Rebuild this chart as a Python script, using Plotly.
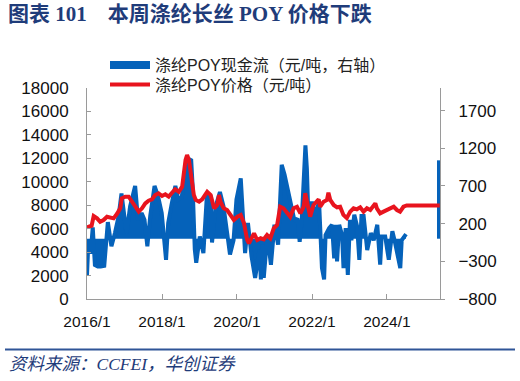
import plotly.graph_objects as go

# ---- data ----
cash_dates = [
    "2016-01-01","2016-01-15","2016-02-05","2016-02-26","2016-03-18","2016-04-15","2016-05-13",
    "2016-06-17","2016-07-22","2016-08-26","2016-09-30","2016-11-04","2016-12-02","2016-12-30",
    "2017-01-20","2017-02-24","2017-04-14","2017-05-12","2017-06-16","2017-07-14","2017-08-11",
    "2017-09-08","2017-10-20","2017-11-24","2017-12-29","2018-02-09","2018-03-02","2018-04-06",
    "2018-05-11","2018-06-08","2018-07-13","2018-08-17","2018-09-14","2018-10-12","2018-10-26",
    "2018-11-16","2018-11-30","2019-01-04","2019-02-08","2019-03-15","2019-04-19","2019-05-03",
    "2019-06-07","2019-07-19","2019-08-23","2019-09-27","2019-10-25","2019-11-29","2019-12-27",
    "2020-02-07","2020-02-28","2020-03-20","2020-04-17","2020-05-22","2020-06-26","2020-08-07",
    "2020-08-21","2020-09-04","2020-09-18","2020-10-23","2020-11-27","2020-12-31","2021-02-05",
    "2021-02-26","2021-03-12","2021-04-09","2021-05-07","2021-06-11","2021-07-16","2021-08-13",
    "2021-09-03","2021-09-24","2021-10-29","2021-11-12","2021-11-26","2021-12-31","2022-02-04",
    "2022-03-11","2022-03-25","2022-04-08","2022-04-29","2022-05-13","2022-06-17","2022-07-15",
    "2022-08-05","2022-08-19","2022-09-02","2022-09-23","2022-10-21","2022-11-04","2022-11-25",
    "2022-12-16","2023-01-06","2023-01-20","2023-02-17","2023-03-17","2023-04-07","2023-04-28",
    "2023-05-19","2023-06-23","2023-07-28","2023-08-25","2023-09-29","2023-10-27","2023-11-10",
    "2023-12-15","2024-01-19","2024-02-23","2024-03-15","2024-04-12","2024-05-10","2024-05-24",
    "2024-06-14","2024-07-05",
]
cash_values = [
    -480, -20, -200, 150, -350, -370, -370,
    -360, 220, -100, 80, 300, 600, 340,
    70, 430, 700, 250, 340, 250, -100,
    300, 700, 560, 340, -280, 210, 470,
    700, 520, 560, 950, 1060, 1040, 700,
    -140, -320, 30, -190, 600, 560, -50,
    430, 620, 430, 80, -210, -20, 520,
    800, 210, -190, 210, -235, -520, -150,
    -540, -80, -520, 50, -345, 185, -80,
    490, 980, 850, 670, 490, 230, 270,
    -40, 270, 1240, 930, 320, 490, 320,
    490, -80, -390, -540, 50, 140, 185,
    -260, 185, -300, 185, 50, -390, 140,
    -480, 250, -20, 320, 160, -280, 300,
    300, -150, 75, -20, 185, -345, 30,
    30, -280, 100, -20, -235, -390, -20,
    30, 60,
]
# latest week (separate segment after the data gap)
cash_last_dates = ["2025-05-22", "2025-05-22"]
cash_last_values = [1040, 0]

price_dates = [
    "2016-01-01","2016-02-15","2016-03-06","2016-04-08","2016-05-08","2016-06-10","2016-07-14",
    "2016-08-15","2016-09-16","2016-10-18","2016-11-20","2016-12-05","2017-01-08","2017-02-10",
    "2017-03-14","2017-04-16","2017-05-19","2017-06-20","2017-07-22","2017-08-23","2017-09-25",
    "2017-10-26","2017-11-28","2018-01-01","2018-02-02","2018-03-07","2018-04-08","2018-05-08",
    "2018-06-13","2018-07-16","2018-08-18","2018-09-02","2018-09-20","2018-10-05","2018-10-23",
    "2018-11-07","2018-11-25","2018-12-28","2019-01-27","2019-02-28","2019-03-17","2019-04-20",
    "2019-05-05","2019-05-23","2019-06-22","2019-07-10","2019-07-24","2019-08-25","2019-09-27",
    "2019-10-30","2019-12-02","2020-01-05","2020-02-07","2020-03-10","2020-04-10","2020-04-27",
    "2020-05-30","2020-06-15","2020-07-17","2020-08-19","2020-09-18","2020-10-20","2020-11-21",
    "2020-12-24","2021-01-26","2021-02-25","2021-03-29","2021-05-01","2021-06-03","2021-07-06",
    "2021-08-08","2021-09-10","2021-10-12","2021-10-27","2021-11-18","2021-12-14","2022-01-16",
    "2022-02-18","2022-03-07","2022-03-22","2022-04-24","2022-05-27","2022-06-10","2022-06-28",
    "2022-07-31","2022-09-02","2022-10-02","2022-11-03","2022-12-06","2023-01-08","2023-02-10",
    "2023-03-14","2023-04-16","2023-05-18","2023-06-20","2023-07-23","2023-09-10","2023-09-25",
    "2023-10-27","2023-11-29","2024-01-01","2024-02-02","2024-03-07","2024-04-08","2024-05-08",
    "2024-06-10","2024-07-12","2025-05-30",
]
price_values = [
    6100, 6250, 7080, 6880, 6590, 6740, 7020,
    6970, 6880, 7250, 7740, 8590, 8730, 8730,
    8300, 7870, 7450, 7740, 8160, 8390, 8500,
    8870, 9020, 8790, 8930, 8730, 9070, 9360,
    9150, 9580, 11860, 12280, 11860, 10720, 9870,
    8870, 8450, 8300, 8500, 8870, 9150, 8870,
    8300, 7740, 8020, 8870, 8300, 7740, 7590,
    7170, 6740, 7020, 7170, 6460, 5030, 4750,
    5310, 5600, 5030, 5180, 5090, 5460, 5180,
    6030, 6310, 7870, 7740, 7310, 7020, 7740,
    7870, 7310, 7870, 9020, 7870, 7020, 8020,
    8300, 8500, 7870, 8300, 8450, 9070, 8450,
    8020, 7820, 7870, 7170, 6900, 7450, 7740,
    7650, 7820, 7450, 7740, 7590, 8160, 7740,
    7310, 7450, 7590, 7740, 7870, 7590, 7450,
    7870, 7980, 7980,
]

cash_name = "涤纶POY现金流（元/吨，右轴）"
price_name = "涤纶POY价格（元/吨）"
title_text = "<b>图表 101    本周涤纶长丝 POY 价格下跌</b>"
source_text = "<i>资料来源：CCFEI，华创证券</i>"

BLUE = "#0562BA"
RED = "#E8141E"
NAVY = "#1F3C7A"
AXIS = "#9A9A9A"
TICKFONT = dict(family="Liberation Sans, Arial, Noto Sans CJK SC", size=17, color="#111111")
LEGFONT = dict(family="Liberation Sans, Arial, Noto Sans CJK SC", size=16, color="#222222")

fig = go.Figure()
fig.add_trace(go.Scatter(
    x=cash_dates, y=cash_values, name=cash_name, mode="lines",
    line=dict(color=BLUE, width=4), fill="tozeroy", fillcolor=BLUE,
    yaxis="y", legend="legend",
))
fig.add_trace(go.Scatter(
    x=cash_last_dates, y=cash_last_values, name=cash_name, mode="lines",
    line=dict(color=BLUE, width=4), showlegend=False, yaxis="y",
))
fig.add_trace(go.Scatter(
    x=price_dates, y=price_values, name=price_name, mode="lines",
    line=dict(color=RED, width=4), yaxis="y2", legend="legend2",
))

W, H = 520, 381
L, R, T, B = 87, 80, 88, 82
pw, ph = W - L - R, H - T - B

def px(xp):
    return (xp - L) / pw

def py(yp):
    return (H - B - yp) / ph

common_axis = dict(showgrid=False, zeroline=False, showline=True, linecolor=AXIS,
                   linewidth=1, tickcolor=AXIS, automargin=False)

fig.update_layout(
    width=W, height=H,
    margin=dict(l=L, r=R, t=T, b=B, pad=0, autoexpand=False),
    paper_bgcolor="white", plot_bgcolor="white",
    showlegend=True,
    legend=dict(
        xref="container", yref="container",
        x=105 / W, y=1 - 65 / H, xanchor="left", yanchor="middle",
        font=LEGFONT, bgcolor="rgba(0,0,0,0)", itemwidth=40,
    ),
    legend2=dict(
        xref="container", yref="container",
        x=105 / W, y=1 - 84.5 / H, xanchor="left", yanchor="middle",
        font=LEGFONT, bgcolor="rgba(0,0,0,0)", itemwidth=40,
    ),
    title=dict(
        text=title_text, x=8 / W, xanchor="left", y=1 - 14 / H, yanchor="middle",
        font=dict(family="Liberation Serif, Noto Sans CJK SC", size=21, color=NAVY),
    ),
    xaxis=dict(
        type="date", range=["2016-01-01", "2025-06-01"],
        tick0="2016-01-01", dtick="M24", tickformat="%Y/%-m",
        ticks="inside", ticklen=5,
        tickfont=dict(family="Liberation Sans, Arial", size=15.5, color="#111111"),
        ticklabelstandoff=8, **common_axis,
    ),
    yaxis=dict(
        side="right", range=[-800, 2000], tick0=-800, dtick=500, tickformat="d",
        ticks="outside", ticklen=4, tickfont=TICKFONT,
        ticklabelstandoff=10, **common_axis,
    ),
    yaxis2=dict(
        overlaying="y", side="left", range=[0, 18000], dtick=2000, tickformat="d",
        ticks="inside", ticklen=4, tickfont=TICKFONT,
        ticklabelstandoff=14, **common_axis,
    ),
)

fig.add_shape(type="line", xref="paper", yref="paper",
              x0=px(5), x1=px(515), y0=py(349.5), y1=py(349.5),
              line=dict(color="#2F5597", width=2))
fig.add_annotation(xref="paper", yref="paper", x=px(7), y=py(364),
                   xanchor="left", yanchor="middle", showarrow=False,
                   text=source_text,
                   font=dict(family="Liberation Serif, Noto Sans CJK SC", size=17.5, color=NAVY))

fig.write_html("out.html", config={"displayModeBar": False},
               post_script="document.body.style.margin='0';")
